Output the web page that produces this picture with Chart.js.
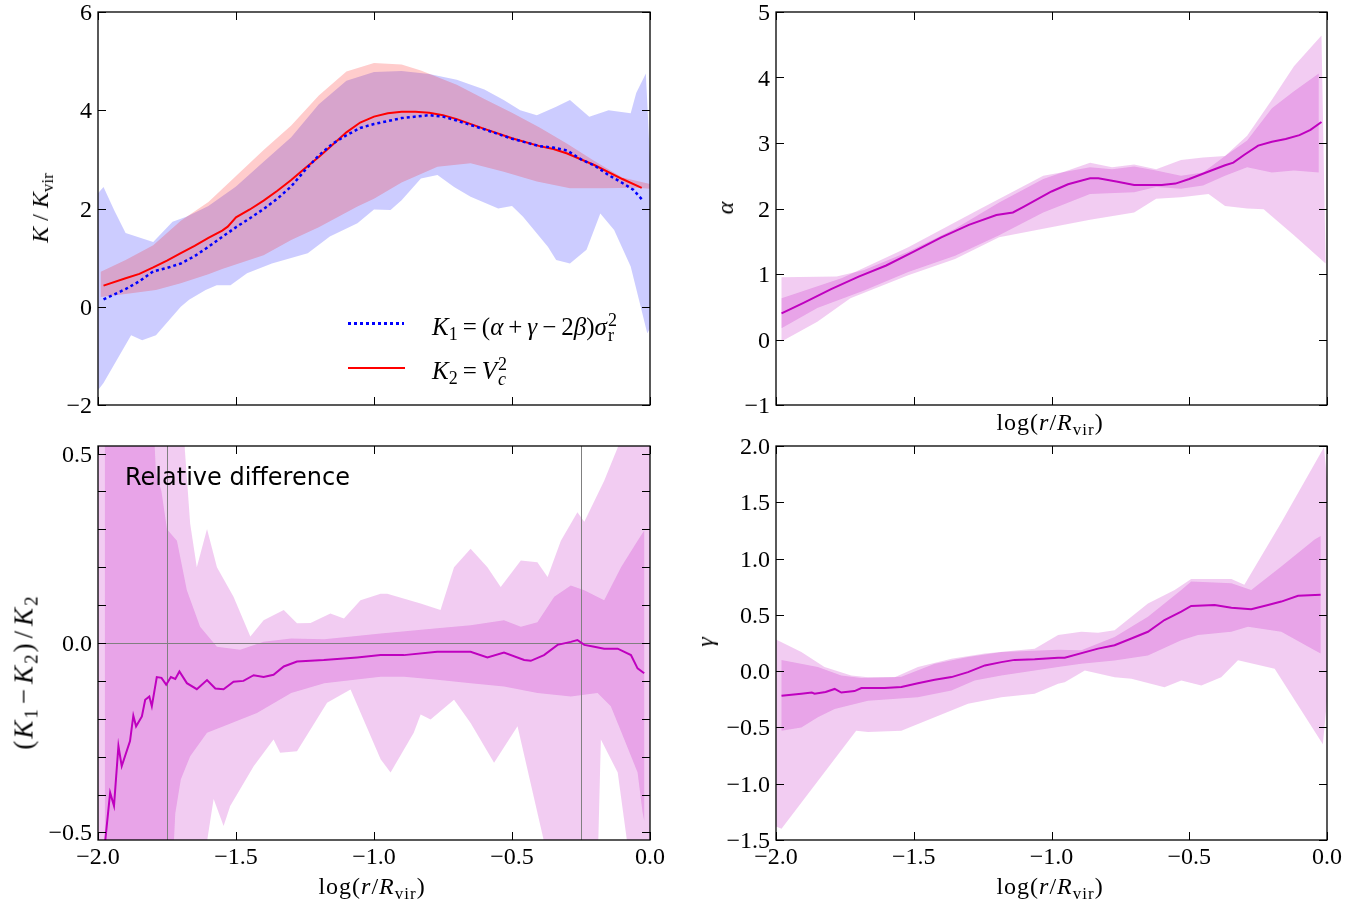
<!DOCTYPE html>
<html>
<head>
<meta charset="utf-8">
<script src="https://cdn.jsdelivr.net/npm/chart.js@4.4.1/dist/chart.umd.min.js"></script>
<style>
  body { margin: 0; background: #fff; }
  #fig { position: relative; width: 1370px; height: 907px; overflow: hidden; }
  #fig canvas { position: absolute; left: 0; top: 0; }
  .m { position: absolute; font-family: 'Liberation Serif', serif; font-size: 24px; line-height: 1; color: #000; white-space: nowrap; }
  .m i { font-style: italic; }
  .c { transform: translate(-50%, -50%); }
  .r { transform: translate(-50%, -50%) rotate(-90deg); }
  .sb { position: relative; top: 5px; font-size: 17px; }
  .st { display: inline-block; position: relative; width: 11px; height: 24px; }
  .st > span { position: absolute; left: 1px; font-size: 17px; line-height: 1; }
  .st > .u { top: 0px; }
  .st > .d { top: 15px; }
  .op { margin: 0 3px; }
  .lg { font-size: 25px; }
  .lg .op { margin: 0 5px; }
  .lg .sb, .lg .st > span { font-size: 18px; }
  .wide { letter-spacing: 1px; }
  .big { font-size: 27px; letter-spacing: 2px; }
  .big .sb { font-size: 19px; }
  .note { position: absolute; font-family: 'DejaVu Sans', sans-serif; font-size: 24px; line-height: 1; }
  .key { position: absolute; }
  .tk { position: absolute; font-family: 'Liberation Serif', serif; font-size: 24px; line-height: 1; color: #000; white-space: nowrap; }
  .tx { transform: translate(-50%, -50%); }
  .ty { transform: translate(-100%, -50%); }
</style>
</head>
<body>
<div id="fig">
  <canvas id="cK" width="1370" height="907"></canvas>
  <canvas id="cAlpha" width="1370" height="907"></canvas>
  <canvas id="cRel" width="1370" height="907"></canvas>
  <canvas id="cGamma" width="1370" height="907"></canvas>

  <!-- axis titles -->
  <div class="m r" style="left:40px;top:208px"><i>K</i> / <i>K</i><span class="sb">vir</span></div>
  <div class="m r" style="left:725px;top:208px"><i>α</i></div>
  <div class="m c wide" style="left:1050px;top:422px">log(<i>r</i>/<i>R</i><span class="sb">vir</span>)</div>
  <div class="m r big" style="left:24px;top:672px">(<i>K</i><span class="sb">1</span><span class="op">−</span><i>K</i><span class="sb">2</span>)<span class="op">/</span><i>K</i><span class="sb">2</span></div>
  <div class="m c wide" style="left:372px;top:886px">log(<i>r</i>/<i>R</i><span class="sb">vir</span>)</div>
  <div class="m r" style="left:705px;top:642px"><i>γ</i></div>
  <div class="m c wide" style="left:1050px;top:886px">log(<i>r</i>/<i>R</i><span class="sb">vir</span>)</div>

  <!-- legend of the K panel -->
  <div class="key" style="left:348px;top:322px;width:56px;height:2.5px;background:repeating-linear-gradient(90deg,#0000ff 0 3px,transparent 3px 6px)"></div>
  <div class="key" style="left:348px;top:367px;width:57px;height:2px;background:#ff0000"></div>
  <div class="m lg" style="left:432px;top:311px"><i>K</i><span class="sb">1</span><span class="op">=</span>(<i>α</i><span class="op">+</span><i>γ</i><span class="op">−</span>2<i>β</i>)<i>σ</i><span class="st"><span class="u">2</span><span class="d">r</span></span></div>
  <div class="m lg" style="left:432px;top:355px"><i>K</i><span class="sb">2</span><span class="op">=</span><i>V</i><span class="st"><span class="u">2</span><span class="d"><i>c</i></span></span></div>

  <div class="note" style="left:125px;top:465px">Relative difference</div>
</div>

<script>
// tick positions and labels
const X_TICKS = [-2, -1.5, -1, -0.5, 0];
const K_TICKS = [-2, 0, 2, 4, 6];
const ALPHA_TICKS = [-1, 0, 1, 2, 3, 4, 5];
const REL_TICKS = [-0.5, -0.4, -0.3, -0.2, -0.1, 0, 0.1, 0.2, 0.3, 0.4, 0.5];
const REL_LABELLED = [-0.5, 0, 0.5];
const GAMMA_TICKS = [-1.5, -1, -0.5, 0, 0.5, 1, 1.5, 2];

// reference lines in the relative-difference panel
const REL_VLINES = [-1.75, -0.25];
const REL_HLINES = [0];

// K1 = (alpha + gamma - 2 beta) sigma_r^2
const k1Line = [[-1.98,0.15],[-1.9,0.36],[-1.85,0.52],[-1.8,0.72],[-1.75,0.79],[-1.7,0.88],[-1.65,1.03],[-1.6,1.22],
  [-1.55,1.42],[-1.5,1.62],[-1.45,1.80],[-1.4,1.99],[-1.35,2.20],[-1.3,2.45],[-1.25,2.78],[-1.2,3.08],[-1.15,3.32],
  [-1.1,3.49],[-1.05,3.64],[-1.0,3.72],[-0.9,3.84],[-0.8,3.90],[-0.75,3.87],[-0.7,3.79],[-0.6,3.61],[-0.5,3.42],
  [-0.4,3.27],[-0.35,3.24],[-0.3,3.18],[-0.25,3.0],[-0.2,2.87],[-0.15,2.68],[-0.1,2.52],[-0.06,2.38],[-0.03,2.19]];
const k1BandHi = [[-2.0,2.31],[-1.98,2.44],[-1.94,1.95],[-1.9,1.50],[-1.8,1.32],[-1.73,1.73],[-1.68,1.83],[-1.6,2.05],
  [-1.5,2.45],[-1.4,2.95],[-1.3,3.45],[-1.2,4.12],[-1.1,4.60],[-1.0,4.78],[-0.9,4.80],[-0.8,4.74],[-0.7,4.62],
  [-0.6,4.42],[-0.53,4.21],[-0.47,4.0],[-0.41,3.90],[-0.34,4.07],[-0.29,4.21],[-0.22,3.87],[-0.15,4.0],[-0.07,3.94],
  [-0.05,4.35],[-0.015,4.75],[0.0,3.0]];
const k1BandLo = [[-2.0,-1.70],[-1.98,-1.55],[-1.88,-0.58],[-1.84,-0.68],[-1.79,-0.58],[-1.7,0.0],[-1.67,0.14],
  [-1.61,0.34],[-1.57,0.44],[-1.52,0.44],[-1.46,0.68],[-1.37,0.88],[-1.24,1.09],[-1.16,1.43],[-1.06,1.70],[-1.0,1.98],
  [-0.94,1.97],[-0.9,2.17],[-0.83,2.61],[-0.77,2.68],[-0.71,2.44],[-0.65,2.24],[-0.55,2.0],[-0.5,2.05],[-0.46,1.83],
  [-0.37,1.22],[-0.34,0.95],[-0.29,0.88],[-0.23,1.16],[-0.18,1.90],[-0.13,1.56],[-0.07,0.82],[-0.04,0.14],
  [-0.01,-0.54],[0.0,-0.45]];

// K2 = Vc^2
const k2Line = [[-1.98,0.43],[-1.9,0.58],[-1.85,0.67],[-1.8,0.80],[-1.75,0.94],[-1.7,1.09],[-1.65,1.24],[-1.6,1.40],
  [-1.55,1.55],[-1.53,1.63],[-1.5,1.82],[-1.45,1.98],[-1.4,2.16],[-1.35,2.36],[-1.3,2.58],[-1.25,2.82],[-1.2,3.05],
  [-1.15,3.30],[-1.1,3.55],[-1.05,3.75],[-1.0,3.87],[-0.95,3.94],[-0.9,3.97],[-0.85,3.97],[-0.8,3.95],[-0.75,3.90],
  [-0.7,3.82],[-0.6,3.62],[-0.5,3.43],[-0.4,3.27],[-0.35,3.21],[-0.3,3.12],[-0.2,2.88],[-0.1,2.60],[-0.03,2.42]];
const k2BandHi = [[-1.99,0.71],[-1.9,0.95],[-1.8,1.25],[-1.7,1.75],[-1.6,2.13],[-1.5,2.66],[-1.4,3.19],[-1.3,3.69],
  [-1.2,4.30],[-1.1,4.79],[-1.0,4.96],[-0.9,4.93],[-0.83,4.81],[-0.7,4.52],[-0.6,4.23],[-0.5,3.95],[-0.4,3.65],
  [-0.3,3.32],[-0.2,2.96],[-0.1,2.63],[0.0,2.50]];
const k2BandLo = [[-1.99,0.20],[-1.9,0.26],[-1.79,0.34],[-1.7,0.48],[-1.6,0.66],[-1.55,0.77],[-1.4,1.05],[-1.3,1.36],
  [-1.2,1.62],[-1.06,2.04],[-1.0,2.2],[-0.9,2.53],[-0.77,2.85],[-0.65,2.92],[-0.53,2.75],[-0.41,2.55],[-0.29,2.41],
  [-0.17,2.41],[-0.05,2.42],[0.0,2.40]];

// alpha
const alphaLine = [[-1.98,0.40],[-1.9,0.56],[-1.8,0.77],[-1.7,0.96],[-1.6,1.13],[-1.5,1.34],[-1.4,1.56],[-1.3,1.75],
  [-1.2,1.90],[-1.14,1.94],[-1.1,2.03],[-1.0,2.26],[-0.94,2.37],[-0.86,2.46],[-0.83,2.46],[-0.76,2.41],[-0.7,2.36],
  [-0.6,2.36],[-0.55,2.38],[-0.5,2.45],[-0.42,2.58],[-0.37,2.66],[-0.34,2.70],[-0.3,2.82],[-0.25,2.96],[-0.2,3.02],
  [-0.15,3.06],[-0.1,3.12],[-0.06,3.2],[-0.02,3.32]];
const alphaInnerHi = [[-1.98,0.63],[-1.76,0.94],[-1.52,1.41],[-1.27,1.97],[-1.03,2.50],[-0.86,2.63],[-0.78,2.60],
  [-0.7,2.64],[-0.62,2.58],[-0.53,2.50],[-0.45,2.55],[-0.37,2.80],[-0.29,3.04],[-0.2,3.53],[-0.12,3.79],[-0.03,4.06]];
const alphaInnerLo = [[-1.98,0.17],[-1.85,0.48],[-1.68,0.75],[-1.52,1.03],[-1.35,1.28],[-1.19,1.59],[-1.03,1.94],
  [-0.86,2.22],[-0.7,2.25],[-0.62,2.33],[-0.53,2.30],[-0.45,2.35],[-0.37,2.50],[-0.29,2.63],[-0.2,2.55],[-0.12,2.58],
  [-0.03,2.55]];
const alphaOuterHi = [[-1.98,0.95],[-1.78,0.96],[-1.68,1.06],[-1.52,1.34],[-1.35,1.69],[-1.19,2.09],[-1.03,2.45],
  [-0.86,2.70],[-0.78,2.63],[-0.7,2.67],[-0.62,2.60],[-0.53,2.74],[-0.45,2.78],[-0.37,2.80],[-0.29,3.11],[-0.2,3.66],
  [-0.12,4.17],[-0.02,4.64]];
const alphaOuterLo = [[-1.98,-0.03],[-1.85,0.27],[-1.73,0.63],[-1.52,0.98],[-1.35,1.23],[-1.19,1.56],[-1.03,1.69],
  [-0.86,1.83],[-0.7,1.94],[-0.62,2.15],[-0.53,2.17],[-0.43,2.22],[-0.37,2.04],[-0.29,2.0],[-0.23,1.99],[-0.12,1.59],
  [-0.005,1.16]];

// (K1 - K2) / K2
const relLine = [[-1.975,-0.53],[-1.956,-0.395],[-1.942,-0.43],[-1.926,-0.272],[-1.914,-0.325],[-1.884,-0.259],
  [-1.872,-0.192],[-1.862,-0.22],[-1.841,-0.194],[-1.829,-0.15],[-1.814,-0.141],[-1.805,-0.167],[-1.787,-0.09],
  [-1.77,-0.092],[-1.753,-0.11],[-1.736,-0.09],[-1.72,-0.095],[-1.705,-0.075],[-1.678,-0.106],[-1.642,-0.122],
  [-1.605,-0.098],[-1.575,-0.12],[-1.545,-0.122],[-1.509,-0.102],[-1.473,-0.1],[-1.436,-0.085],[-1.4,-0.09],
  [-1.364,-0.084],[-1.327,-0.062],[-1.279,-0.049],[-1.182,-0.045],[-1.061,-0.038],[-0.976,-0.032],[-0.892,-0.032],
  [-0.771,-0.023],[-0.65,-0.023],[-0.589,-0.038],[-0.529,-0.025],[-0.456,-0.045],[-0.432,-0.047],[-0.384,-0.032],
  [-0.335,-0.005],[-0.287,0.003],[-0.263,0.008],[-0.238,-0.005],[-0.202,-0.01],[-0.166,-0.015],[-0.117,-0.015],
  [-0.069,-0.032],[-0.045,-0.067],[-0.021,-0.08]];
const relInnerHi = [[-1.975,0.6],[-1.80,0.6],[-1.79,0.45],[-1.77,0.40],[-1.75,0.30],[-1.714,0.27],[-1.678,0.139],
  [-1.63,0.043],[-1.569,-0.01],[-1.485,-0.018],[-1.4,0.003],[-1.3,0.012],[-1.18,0.01],[-0.976,0.025],[-0.771,0.039],
  [-0.65,0.047],[-0.529,0.06],[-0.468,0.043],[-0.408,0.055],[-0.347,0.122],[-0.287,0.152],[-0.238,0.139],
  [-0.166,0.113],[-0.105,0.20],[-0.045,0.27],[-0.021,0.297]];
const relInnerLo = [[-1.975,-0.6],[-1.73,-0.6],[-1.72,-0.45],[-1.70,-0.36],[-1.666,-0.299],[-1.605,-0.237],
  [-1.545,-0.22],[-1.424,-0.185],[-1.3,-0.132],[-1.18,-0.106],[-0.976,-0.089],[-0.892,-0.089],[-0.771,-0.097],
  [-0.65,-0.106],[-0.529,-0.115],[-0.408,-0.132],[-0.287,-0.141],[-0.19,-0.132],[-0.142,-0.167],[-0.093,-0.255],
  [-0.045,-0.342],[-0.027,-0.447],[-0.021,-0.47]];
const relOuterHi = [[-2.0,0.6],[-1.69,0.6],[-1.685,0.507],[-1.666,0.315],[-1.642,0.20],[-1.605,0.301],[-1.569,0.20],
  [-1.509,0.122],[-1.448,0.017],[-1.4,0.06],[-1.327,0.087],[-1.279,0.052],[-1.23,0.053],[-1.158,0.078],[-1.109,0.065],
  [-1.049,0.113],[-0.976,0.13],[-0.952,0.13],[-0.831,0.104],[-0.759,0.087],[-0.71,0.20],[-0.65,0.249],[-0.589,0.20],
  [-0.541,0.148],[-0.468,0.218],[-0.408,0.213],[-0.371,0.174],[-0.323,0.27],[-0.263,0.345],[-0.238,0.32],
  [-0.166,0.428],[-0.117,0.516],[-0.08,0.6],[0.0,0.6]];
const relOuterLo = [[-2.0,-0.6],[-1.62,-0.6],[-1.6,-0.50],[-1.581,-0.412],[-1.545,-0.483],[-1.521,-0.43],
  [-1.436,-0.325],[-1.364,-0.255],[-1.34,-0.29],[-1.279,-0.286],[-1.17,-0.158],[-1.085,-0.123],[-0.976,-0.307],
  [-0.94,-0.342],[-0.856,-0.237],[-0.831,-0.189],[-0.795,-0.202],[-0.71,-0.15],[-0.65,-0.211],[-0.565,-0.316],
  [-0.48,-0.22],[-0.36,-0.6],[-0.19,-0.6],[-0.178,-0.255],[-0.117,-0.342],[-0.069,-0.6],[0.0,-0.6]];

// gamma
const gammaLine = [[-1.98,-0.218],[-1.908,-0.20],[-1.87,-0.19],[-1.86,-0.20],[-1.82,-0.185],[-1.787,-0.158],
  [-1.763,-0.19],[-1.715,-0.177],[-1.69,-0.15],[-1.606,-0.15],[-1.545,-0.14],[-1.485,-0.107],[-1.424,-0.077],
  [-1.363,-0.053],[-1.303,-0.009],[-1.242,0.051],[-1.182,0.08],[-1.134,0.10],[-1.061,0.106],[-0.976,0.12],
  [-0.952,0.12],[-0.831,0.20],[-0.771,0.23],[-0.71,0.29],[-0.65,0.35],[-0.59,0.454],[-0.529,0.528],[-0.493,0.579],
  [-0.408,0.588],[-0.347,0.564],[-0.275,0.55],[-0.214,0.588],[-0.166,0.618],[-0.105,0.669],[-0.023,0.678]];
const gammaInnerHi = [[-1.98,0.10],[-1.848,0.036],[-1.763,-0.038],[-1.69,-0.06],[-1.545,-0.05],[-1.424,0.066],
  [-1.303,0.125],[-1.182,0.17],[-0.976,0.19],[-0.892,0.185],[-0.771,0.304],[-0.65,0.484],[-0.529,0.72],
  [-0.493,0.797],[-0.408,0.788],[-0.347,0.78],[-0.275,0.72],[-0.166,0.93],[-0.045,1.17],[-0.023,1.20]];
const gammaInnerLo = [[-1.98,-0.53],[-1.908,-0.50],[-1.848,-0.41],[-1.787,-0.337],[-1.666,-0.262],[-1.485,-0.233],
  [-1.363,-0.173],[-1.279,-0.083],[-1.182,-0.038],[-0.976,0.036],[-0.892,0.066],[-0.771,0.095],[-0.65,0.14],
  [-0.529,0.275],[-0.468,0.32],[-0.347,0.35],[-0.287,0.394],[-0.166,0.35],[-0.045,0.185],[-0.023,0.156]];
const gammaOuterHi = [[-2.0,0.28],[-1.908,0.17],[-1.824,0.036],[-1.727,-0.038],[-1.666,-0.054],[-1.569,-0.054],
  [-1.485,0.036],[-1.363,0.111],[-1.242,0.156],[-1.121,0.185],[-1.061,0.20],[-0.976,0.32],[-0.892,0.35],
  [-0.831,0.34],[-0.771,0.364],[-0.65,0.60],[-0.553,0.72],[-0.493,0.818],[-0.347,0.818],[-0.3,0.767],
  [-0.166,1.32],[-0.011,1.99],[0.0,1.71]];
const gammaOuterLo = [[-2.0,-1.38],[-1.98,-1.40],[-1.709,-0.53],[-1.666,-0.54],[-1.545,-0.53],[-1.424,-0.41],
  [-1.303,-0.29],[-1.182,-0.233],[-1.061,-0.20],[-0.976,-0.113],[-0.952,-0.098],[-0.879,0.006],[-0.771,-0.054],
  [-0.71,-0.068],[-0.59,-0.143],[-0.529,-0.083],[-0.456,-0.128],[-0.384,-0.054],[-0.323,0.096],[-0.19,0.021],
  [-0.015,-0.65],[0.0,-0.26]];

const W = 1370, H = 907;
const Y_AXIS_W = 90, X_AXIS_H = 40;

// closed outline: upper edge left to right, then lower edge back
function band(hi, lo) {
  return hi.concat(lo.slice().reverse());
}

function num(dec) {
  return v => (v < 0 ? '\u2212' : '') + Math.abs(v).toFixed(dec);
}

// box and inward ticks on all four sides, plus optional reference lines
const frame = {
  id: 'frame',
  afterDatasetDraw(chart, args, opts) {
    if (args.index !== opts.refAfter) return;
    const { ctx, chartArea: a, scales: { x, y } } = chart;
    ctx.save();
    ctx.strokeStyle = '#808080';
    ctx.lineWidth = 1;
    ctx.beginPath();
    (opts.vlines || []).forEach(v => {
      const p = Math.round(x.getPixelForValue(v)) + 0.5;
      ctx.moveTo(p, a.top); ctx.lineTo(p, a.bottom);
    });
    (opts.hlines || []).forEach(v => {
      const p = Math.round(y.getPixelForValue(v)) + 0.5;
      ctx.moveTo(a.left, p); ctx.lineTo(a.right, p);
    });
    ctx.stroke();
    ctx.restore();
  },
  afterDraw(chart) {
    const { ctx, chartArea: a, scales: { x, y } } = chart;
    const len = 8;
    ctx.save();
    ctx.strokeStyle = '#000';
    ctx.lineWidth = 1;
    ctx.beginPath();
    x.ticks.forEach(t => {
      const p = Math.round(x.getPixelForValue(t.value)) + 0.5;
      ctx.moveTo(p, a.bottom); ctx.lineTo(p, a.bottom - len);
      ctx.moveTo(p, a.top); ctx.lineTo(p, a.top + len);
    });
    y.ticks.forEach(t => {
      const p = Math.round(y.getPixelForValue(t.value)) + 0.5;
      ctx.moveTo(a.left, p); ctx.lineTo(a.left + len, p);
      ctx.moveTo(a.right, p); ctx.lineTo(a.right - len, p);
    });
    ctx.stroke();
    ctx.lineWidth = 1.3;
    ctx.strokeRect(a.left, a.top, a.right - a.left, a.bottom - a.top);
    ctx.restore();
  }
};

// tick labels as page text in the serif face, placed from the scales
const tickText = {
  id: 'tickText',
  afterRender(chart, args, opts) {
    const host = document.getElementById('fig');
    (chart.$tickEls || []).forEach(el => el.remove());
    chart.$tickEls = [];
    const { chartArea: a, scales: { x, y } } = chart;
    const put = (text, left, top, cls) => {
      const el = document.createElement('div');
      el.className = 'tk ' + cls;
      el.textContent = text;
      el.style.left = left + 'px';
      el.style.top = top + 'px';
      host.appendChild(el);
      chart.$tickEls.push(el);
    };
    if (opts.xLabels) {
      x.ticks.forEach(t => put(num(1)(t.value), x.getPixelForValue(t.value), a.bottom + 16, 'tx'));
    }
    y.ticks.forEach(t => {
      const s = opts.yFmt(t.value);
      if (s) put(s, a.left - 6, y.getPixelForValue(t.value), 'ty');
    });
  }
};

function lineSet(data, color, width, dash, order) {
  return { data, showLine: true, borderColor: color, borderWidth: width, borderDash: dash || [],
    borderCapStyle: 'butt', pointRadius: 0, fill: false, order };
}

function bandSet(hi, lo, color, order) {
  return { data: band(hi, lo), showLine: true, borderWidth: 0, borderColor: 'rgba(0,0,0,0)',
    backgroundColor: color, pointRadius: 0, fill: 'shape', order };
}

const MAGENTA = '#bf00bf';
const MAGENTA_FILL = 'rgba(191,0,191,0.2)';

function panel(id, box, o) {
  new Chart(document.getElementById(id), {
    type: 'scatter',
    data: { datasets: o.datasets },
    options: {
      responsive: false,
      animation: false,
      layout: {
        autoPadding: false,
        padding: { left: box.l - Y_AXIS_W, top: box.t, right: W - box.r, bottom: H - box.b - X_AXIS_H }
      },
      plugins: {
        legend: { display: false },
        tooltip: { enabled: false },
        frame: { vlines: o.vlines, hlines: o.hlines, refAfter: 1 },
        tickText: { xLabels: o.xLabels, yFmt: o.yFmt }
      },
      scales: {
        x: {
          type: 'linear', min: -2, max: 0,
          grid: { display: false }, border: { display: false },
          afterBuildTicks: s => { s.ticks = X_TICKS.map(v => ({ value: v })); },
          afterFit: s => { s.height = X_AXIS_H; },
          ticks: { display: false }
        },
        y: {
          type: 'linear', min: o.yMin, max: o.yMax,
          grid: { display: false }, border: { display: false },
          afterBuildTicks: s => { s.ticks = o.yTicks.map(v => ({ value: v })); },
          afterFit: s => { s.width = Y_AXIS_W; },
          ticks: { display: false }
        }
      }
    },
    plugins: [frame, tickText]
  });
}

panel('cK', { l: 98, t: 12, r: 650, b: 405 }, {
  yMin: -2, yMax: 6, yTicks: K_TICKS, yFmt: num(0), xLabels: false,
  datasets: [
    lineSet(k1Line, '#0000ff', 2.5, [3, 3], 0),
    lineSet(k2Line, '#ff0000', 2, null, 1),
    bandSet(k2BandHi, k2BandLo, 'rgba(255,0,0,0.2)', 2),
    bandSet(k1BandHi, k1BandLo, 'rgba(0,0,255,0.2)', 3)
  ]
});

panel('cAlpha', { l: 776, t: 12, r: 1327, b: 405 }, {
  yMin: -1, yMax: 5, yTicks: ALPHA_TICKS, yFmt: num(0), xLabels: false,
  datasets: [
    lineSet(alphaLine, MAGENTA, 2, null, 0),
    bandSet(alphaInnerHi, alphaInnerLo, MAGENTA_FILL, 1),
    bandSet(alphaOuterHi, alphaOuterLo, MAGENTA_FILL, 2)
  ]
});

panel('cRel', { l: 98, t: 446, r: 650, b: 840 }, {
  yMin: -0.52, yMax: 0.52, yTicks: REL_TICKS, xLabels: true,
  yFmt: v => REL_LABELLED.some(l => Math.abs(l - v) < 1e-6) ? num(1)(v) : '',
  vlines: REL_VLINES, hlines: REL_HLINES,
  datasets: [
    lineSet(relLine, MAGENTA, 2, null, 0),
    bandSet(relInnerHi, relInnerLo, MAGENTA_FILL, 1),
    bandSet(relOuterHi, relOuterLo, MAGENTA_FILL, 2)
  ]
});

panel('cGamma', { l: 776, t: 446, r: 1327, b: 840 }, {
  yMin: -1.5, yMax: 2, yTicks: GAMMA_TICKS, yFmt: num(1), xLabels: true,
  datasets: [
    lineSet(gammaLine, MAGENTA, 2, null, 0),
    bandSet(gammaInnerHi, gammaInnerLo, MAGENTA_FILL, 1),
    bandSet(gammaOuterHi, gammaOuterLo, MAGENTA_FILL, 2)
  ]
});
</script>
</body>
</html>
